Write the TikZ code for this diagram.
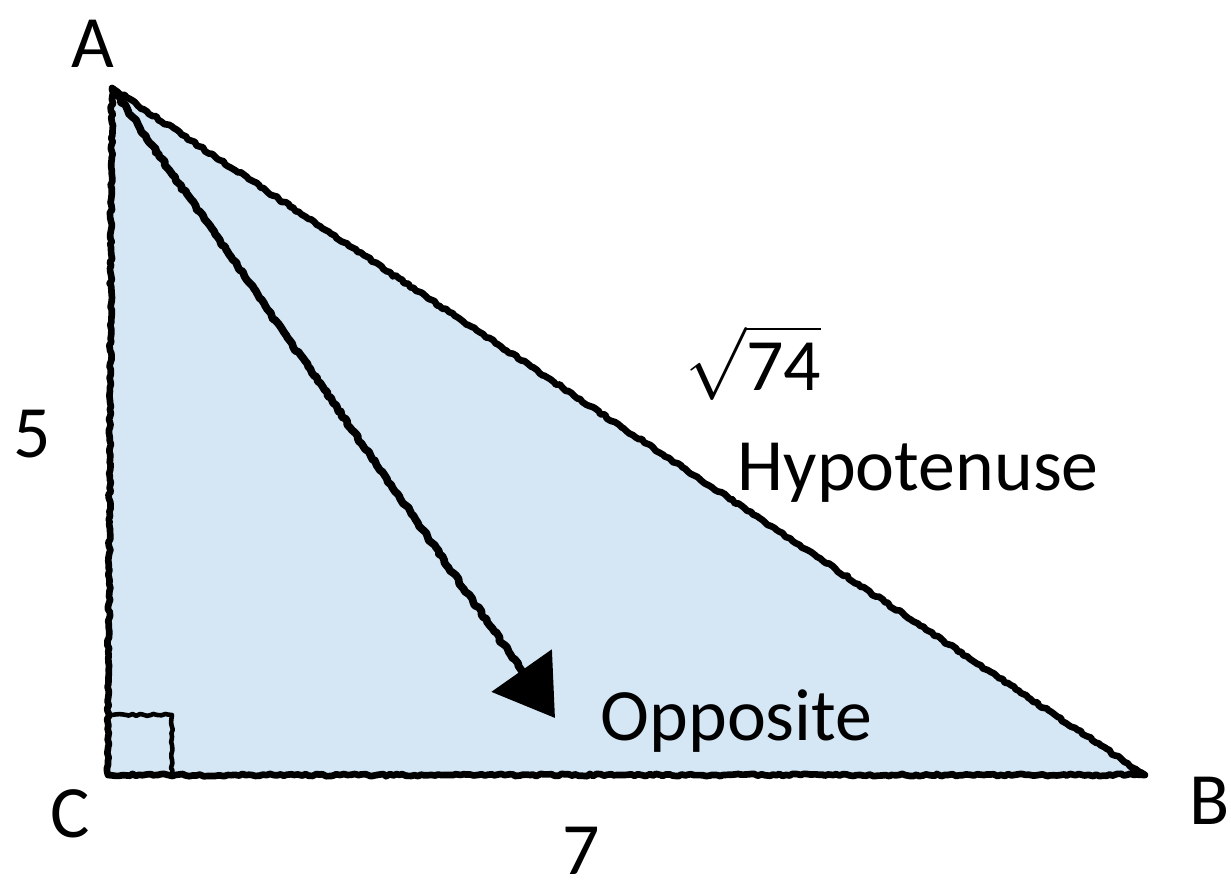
\documentclass[tikz,border=0pt]{standalone}
\usepackage{fontspec}
\setmainfont{Carlito}
\usepackage{tikz}
\usetikzlibrary{arrows.meta, decorations.pathmorphing}

\definecolor{paleblue}{RGB}{213,230,245}

\begin{document}
\begin{tikzpicture}[
    sketch/.style={
        decorate,
        decoration={random steps, segment length=1pt, amplitude=0.35pt},
        line width=1.9pt,
        line join=round
    },
    label/.style={
        font=\fontsize{21}{25}\selectfont,
        inner sep=0pt
    },
    arrow/.style={
        sketch,
        line width=2.2pt,
        decoration={random steps, segment length=1pt, amplitude=0.4pt, post length=6mm},
        -{Triangle[length=5.8mm, width=7.2mm]}
    }
]

\useasboundingbox (0,0) rectangle (12.31,8.88);

\coordinate (A) at (1.12,8.00);
\coordinate (C) at (1.08,1.13);
\coordinate (B) at (11.45,1.13);
\coordinate (tip) at (5.55,1.70);

% triangle
\fill[paleblue] (A) -- (B) -- (C) -- cycle;
\draw[sketch] (A) -- (B) -- (C) -- cycle;

% right angle mark
\draw[sketch, line width=1.3pt] ([xshift=0.04cm]C) ++(0,0.60) -- ++(0.60,0) -- ++(0,-0.60);

% arrow
\draw[arrow] (A) -- (tip);

% labels
\node[label, anchor=base] (lA) at (0.93,8.21) {A};
\node[label, anchor=base] (lC) at (0.70,0.51) {C};
\node[label, anchor=base] (lB) at (12.10,0.64) {B};
\node[label, anchor=base] (five) at (0.32,4.31) {5};
\node[label, anchor=base] (seven) at (5.81,0.14) {7};
\node[label, anchor=base west] (root) at (6.85,4.98) {$\sqrt{\mbox{74}}$};
\node[label, anchor=base west] (hyp) at (7.37,3.98) {Hypotenuse};
\node[label, anchor=base west] (opp) at (6.00,1.48) {Opposite};

\end{tikzpicture}
\end{document}
